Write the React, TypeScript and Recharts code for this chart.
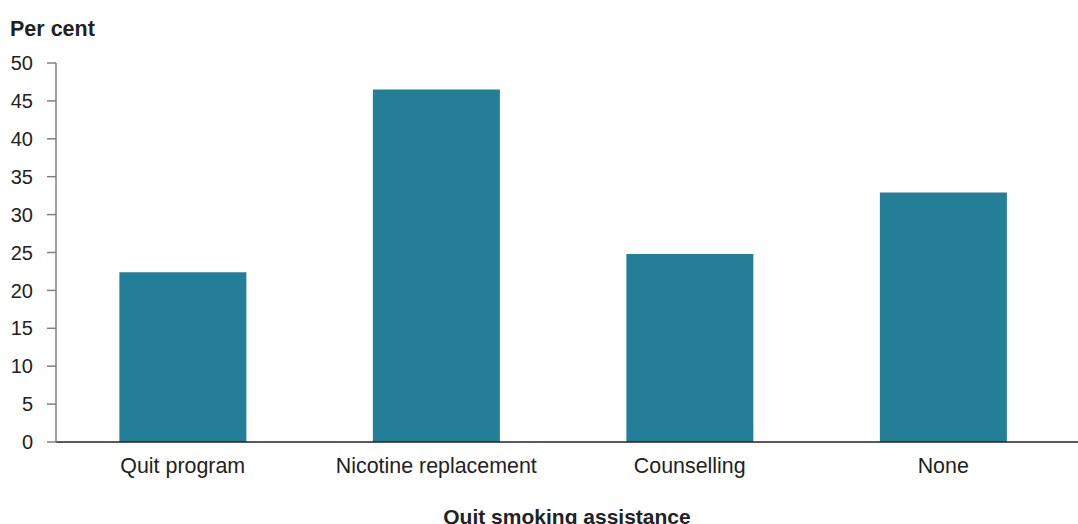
import { BarChart, Bar, XAxis, YAxis } from 'recharts';

// 各类戒烟辅助方式的占比（%）
const categories = ['Quit program', 'Nicotine replacement', 'Counselling', 'None'];
const percent = [22.4, 46.5, 24.8, 32.9];
const yTicks = [0, 5, 10, 15, 20, 25, 30, 35, 40, 45, 50];

const data = categories.map((name, i) => ({ name, value: percent[i] }));

const FONT = "'Liberation Sans', Arial, sans-serif";
const TEXT = '#222222';
const BAR = '#237f97';

export default function App() {
  return (
    <div style={{ position: 'absolute', left: 0, top: 0, width: 1078, height: 524, background: '#fff' }}>
      <div
        style={{
          position: 'absolute',
          left: 10,
          top: 19,
          fontFamily: FONT,
          fontWeight: 700,
          fontSize: 21.5,
          lineHeight: '21px',
          color: TEXT,
        }}
      >
        Per cent
      </div>
      <BarChart
        width={1078}
        height={524}
        data={data}
        margin={{ top: 63, right: 0, left: 0, bottom: 0 }}
        barCategoryGap="25%"
      >
        <XAxis
          dataKey="name"
          height={82}
          padding={{ left: 0, right: 8 }}
          axisLine={{ stroke: '#222', strokeWidth: 1.5 }}
          tickLine={false}
          tickMargin={10}
          tick={{ fill: TEXT, fontSize: 21.4, fontFamily: FONT }}
          label={{
            value: 'Quit smoking assistance',
            position: 'insideBottom',
            offset: 0,
            fill: TEXT,
            fontSize: 21,
            fontWeight: 700,
            fontFamily: FONT,
          }}
        />
        <YAxis
          width={56}
          domain={[0, 50]}
          ticks={yTicks}
          interval={0}
          axisLine={{ stroke: '#808080', strokeWidth: 1.5 }}
          tickLine={{ stroke: '#808080', strokeWidth: 1.5 }}
          tickSize={9}
          tickMargin={14}
          tick={{ fill: TEXT, fontSize: 20, fontFamily: FONT }}
        />
        <Bar dataKey="value" fill={BAR} isAnimationActive={false} />
      </BarChart>
    </div>
  );
}
